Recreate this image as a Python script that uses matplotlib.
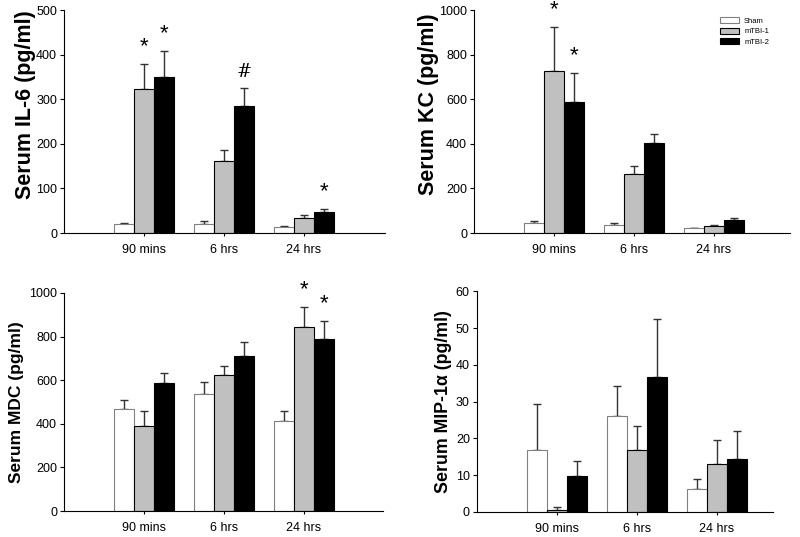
import numpy as np
import matplotlib.pyplot as plt

plt.rcParams['font.family'] = ['Liberation Sans', 'DejaVu Sans']

groups = ['90 mins', '6 hrs', '24 hrs']
series = ['Sham', 'mTBI-1', 'mTBI-2']
colors = ['white', '#c0c0c0', 'black']

# Serum IL-6 (pg/ml)
il6 = [[20, 20, 13], [323, 162, 34], [351, 284, 48]]
il6_err = [[2, 6, 3], [57, 25, 7], [58, 42, 7]]
# Serum KC (pg/ml)
kc = [[45, 37, 21], [728, 266, 30], [590, 406, 57]]
kc_err = [[7, 8, 2], [196, 36, 4], [127, 38, 11]]
# Serum MDC (pg/ml)
mdc = [[466, 537, 414], [388, 626, 844], [588, 710, 788]]
mdc_err = [[41, 54, 46], [70, 40, 92], [47, 66, 84]]
# Serum MIP-1a (pg/ml)
mip = [[16.9, 26.2, 6.3], [0.6, 16.9, 13.1], [9.7, 36.6, 14.5]]
mip_err = [[12.5, 8.1, 2.6], [0.8, 6.4, 6.5], [4.1, 15.9, 7.5]]

# (group index, series index, mark)
il6_marks = [(0, 1, '*'), (0, 2, '*'), (1, 2, '#'), (2, 2, '*')]
kc_marks = [(0, 1, '*'), (0, 2, '*')]
mdc_marks = [(2, 1, '*'), (2, 2, '*')]

# data, errors, marks, label, ymax, step, axes rect, xmax, label size, labelpad, label y
panels = [
    (il6, il6_err, il6_marks, 'Serum IL-6 (pg/ml)', 500, 100,
     [0.08, 0.566, 0.401, 0.415], 4.01, 15.5, 0, 0.575),
    (kc, kc_err, kc_marks, 'Serum KC (pg/ml)', 1000, 200,
     [0.5925, 0.566, 0.395, 0.415], 3.95, 15.5, 0, 0.58),
    (mdc, mdc_err, mdc_marks, 'Serum MDC (pg/ml)', 1000, 200,
     [0.08, 0.0484, 0.399, 0.406], 3.99, 12.5, 3.5, 0.5),
    (mip, mip_err, [], 'Serum MIP-1α (pg/ml)', 60, 10,
     [0.596, 0.0466, 0.37, 0.411], 3.7, 12.8, 3, 0.5),
]

fig = plt.figure(figsize=(8, 5.37), dpi=100)
w = 0.25
x = np.arange(1, 4)
for k, (vals, errs, marks, label, ymax, step, pos, xmax, lsize, lpad, ly) in enumerate(panels):
    ax = fig.add_axes(pos)
    for i in range(3):
        xs = x + (i - 1) * w
        ec = '#808080' if i == 0 else 'black'
        ax.bar(xs, vals[i], w, color=colors[i], edgecolor=ec, linewidth=0.8,
               label=series[i], zorder=2)
        ax.errorbar(xs, vals[i], yerr=[np.zeros(3), errs[i]], fmt='none',
                    ecolor='#333333', elinewidth=1, capsize=3, capthick=1, zorder=1)
    for g, s, m in marks:
        top = vals[s][g] + errs[s][g]
        fs = 16 if m == '*' else 13
        ax.text(x[g] + (s - 1) * w, top + ymax * 0.03, m, ha='center', va='bottom',
                fontsize=fs, family=['DejaVu Serif'] if m == '#' else None)
    ax.set_xlim(0, xmax)
    ax.set_ylim(0, ymax)
    ax.set_yticks(np.arange(0, ymax + 1, step))
    ax.set_xticks(x)
    ax.set_xticklabels(groups)
    ax.spines['top'].set_visible(False)
    ax.spines['right'].set_visible(False)
    ax.tick_params(axis='y', labelsize=9, length=3, width=0.8, pad=2)
    ax.tick_params(axis='x', labelsize=9, length=2, width=0.8, pad=6)
    ax.set_ylabel(label, fontsize=lsize, fontweight='bold', labelpad=lpad)
    ax.yaxis.label.set_y(ly)
    if k == 1:
        ax.legend(loc='upper right', bbox_to_anchor=(0.955, 1.0), fontsize=5.5,
                  frameon=False, handlelength=2.6, handleheight=0.9,
                  labelspacing=0.35, handletextpad=0.6)

fig.savefig('out.png', dpi=100)
